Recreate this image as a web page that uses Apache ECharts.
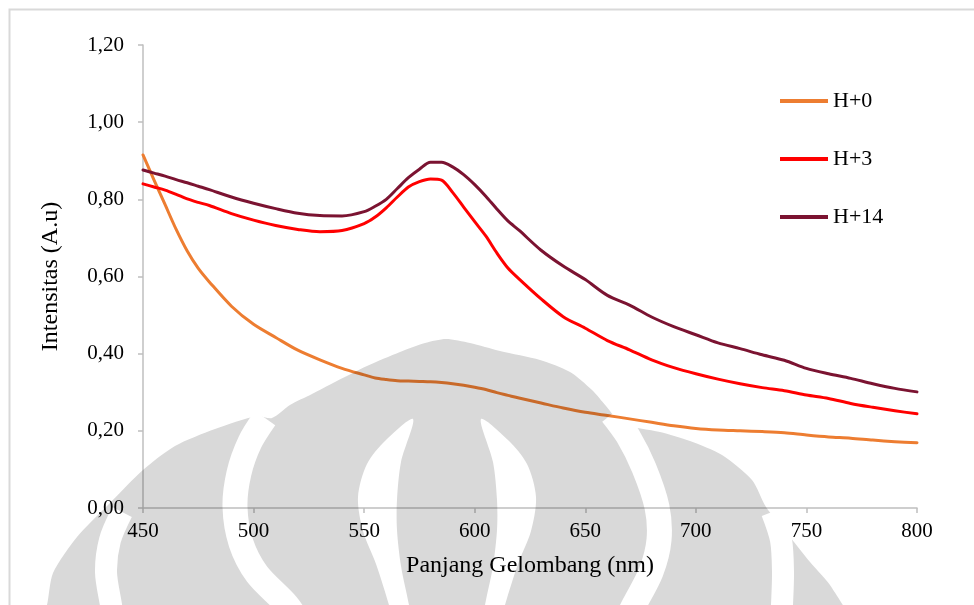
<!DOCTYPE html>
<html>
<head>
<meta charset="utf-8">
<script src="https://cdn.jsdelivr.net/npm/echarts@6/dist/echarts.min.js"></script>
<style>
  html, body { margin: 0; padding: 0; background: #ffffff; }
  #chart { width: 974px; height: 605px; }
  #emblem { width: 974px; height: 605px; position: absolute; left: -2000px; top: 0; }
</style>
</head>
<body>
<div id="chart"></div>
<div id="emblem"></div>
<script>
// Absorbance spectra (Intensitas) vs wavelength for three sampling days
const wavelength = [450, 455, 460, 465, 470, 475, 480, 490, 500, 510, 520, 530, 540, 550, 555, 560, 565, 570,
  575, 580, 585, 590, 595, 600, 605, 610, 615, 620, 630, 640, 650, 660, 670, 680, 690, 700, 710, 720, 730,
  740, 750, 760, 770, 780, 790, 800];

const h0 = [0.915, 0.850, 0.786, 0.722, 0.666, 0.621, 0.586, 0.523, 0.476, 0.442, 0.409, 0.384, 0.362, 0.345,
  0.337, 0.333, 0.330, 0.329, 0.328, 0.327, 0.325, 0.322, 0.318, 0.313, 0.307, 0.299, 0.292, 0.285, 0.272,
  0.259, 0.248, 0.240, 0.231, 0.222, 0.213, 0.206, 0.202, 0.200, 0.198, 0.195, 0.189, 0.184, 0.181, 0.176,
  0.172, 0.169];

const h3 = [0.840, 0.832, 0.824, 0.813, 0.801, 0.792, 0.784, 0.763, 0.746, 0.732, 0.722, 0.716, 0.719, 0.737,
  0.754, 0.778, 0.806, 0.832, 0.846, 0.853, 0.850, 0.818, 0.780, 0.742, 0.705, 0.661, 0.622, 0.594, 0.542,
  0.496, 0.466, 0.434, 0.410, 0.384, 0.364, 0.348, 0.334, 0.322, 0.312, 0.304, 0.293, 0.284, 0.271, 0.261,
  0.252, 0.244];

const h14 = [0.876, 0.868, 0.860, 0.851, 0.843, 0.834, 0.825, 0.806, 0.790, 0.776, 0.764, 0.758, 0.757, 0.768,
  0.782, 0.800, 0.828, 0.856, 0.878, 0.896, 0.896, 0.884, 0.864, 0.838, 0.808, 0.775, 0.744, 0.720, 0.668,
  0.627, 0.592, 0.551, 0.526, 0.495, 0.470, 0.449, 0.428, 0.413, 0.397, 0.383, 0.362, 0.348, 0.336, 0.322,
  0.310, 0.301];

const seriesNames = ['H+0', 'H+3', 'H+14'];
const seriesColors = ['#ED7D31', '#FF0000', '#7B1331'];

const serif = "'Liberation Serif', 'Times New Roman', serif";
const grey = '#d9d9d9';

function pairs(values) {
  return wavelength.map((w, i) => [w, values[i]]);
}

// Faint emblem printed over the page; drawn on its own canvas, then multiplied onto the chart
const emblemShapes = [
  {
    type: 'polygon', silent: true,
    shape: {
      smooth: 0.25,
      points: [[40, 625], [47, 605], [53, 573], [77, 537], [110, 503], [143, 470], [175, 446], [215, 429],
        [257, 416], [272, 418], [290, 405], [312, 394], [335, 382], [367, 366], [400, 352], [425, 343],
        [446, 339], [470, 343], [500, 351], [540, 360], [570, 372], [592, 390], [606, 406], [622, 424],
        [660, 432], [690, 441], [722, 455], [752, 480], [766, 507], [786, 532], [810, 562], [832, 588],
        [848, 625]]
    },
    style: { fill: grey }
  },
  {
    type: 'polyline', silent: true,
    shape: { smooth: 0.3, points: [[265, 418], [250, 442], [239, 473], [235, 507], [241, 543], [257, 574], [287, 605], [300, 625]] },
    style: { stroke: '#ffffff', lineWidth: 25, fill: null }
  },
  {
    type: 'polyline', silent: true,
    shape: { smooth: 0.3, points: [[612, 414], [628, 436], [644, 468], [657, 507], [659, 540], [651, 572], [634, 605], [624, 625]] },
    style: { stroke: '#ffffff', lineWidth: 25, fill: null }
  },
  {
    type: 'polygon', silent: true,
    shape: {
      smooth: 0.3,
      points: [[413, 419], [386, 440], [367, 464], [358, 497], [363, 531], [376, 564], [389, 605], [394, 625],
        [412, 625], [409, 605], [401, 566], [397, 530], [397, 500], [401, 462]]
    },
    style: { fill: '#ffffff' }
  },
  {
    type: 'polygon', silent: true,
    shape: {
      smooth: 0.3,
      points: [[481, 419], [508, 440], [527, 464], [536, 497], [531, 531], [518, 564], [505, 605], [500, 625],
        [482, 625], [485, 605], [493, 566], [497, 530], [497, 500], [493, 462]]
    },
    style: { fill: '#ffffff' }
  },
  {
    type: 'polyline', silent: true,
    shape: { smooth: 0.3, points: [[122, 512], [110, 540], [106, 572], [111, 605], [114, 625]] },
    style: { stroke: '#ffffff', lineWidth: 22, fill: null }
  },
  {
    type: 'polyline', silent: true,
    shape: { smooth: 0.3, points: [[772, 512], [781, 540], [783, 572], [782, 605], [781, 625]] },
    style: { stroke: '#ffffff', lineWidth: 22, fill: null }
  }
];

const emblemChart = echarts.init(document.getElementById('emblem'), null, { renderer: 'canvas' });
emblemChart.setOption({ animation: false, backgroundColor: '#ffffff', graphic: emblemShapes });
const emblemCanvas = emblemChart.getRenderedCanvas({ pixelRatio: 1, backgroundColor: '#ffffff' });

const chart = echarts.init(document.getElementById('chart'), null, { renderer: 'canvas' });

chart.setOption({
  animation: false,
  backgroundColor: '#ffffff',
  textStyle: { fontFamily: serif, color: '#000000' },
  graphic: [
    // chart area border
    {
      type: 'rect', z: -8, silent: true,
      shape: { x: 9.5, y: 9.5, width: 1000, height: 700 },
      style: { fill: null, stroke: '#d9d9d9', lineWidth: 2 }
    },
    {
      type: 'image', z: 100, silent: true,
      style: { image: emblemCanvas, x: 0, y: 0, width: 974, height: 605, blend: 'multiply' }
    }
  ],
  grid: { left: 143, right: 57, top: 45, bottom: 97, containLabel: false },
  legend: {
    orient: 'vertical',
    left: 775,
    top: 85,
    icon: 'rect',
    itemWidth: 48,
    itemHeight: 4,
    itemGap: 36,
    textStyle: { fontFamily: serif, fontSize: 22, color: '#000000' },
    data: seriesNames
  },
  xAxis: {
    type: 'value',
    min: 450,
    max: 800,
    interval: 50,
    name: 'Panjang Gelombang (nm)',
    nameLocation: 'middle',
    nameGap: 46,
    nameTextStyle: { fontFamily: serif, fontSize: 24, color: '#000000' },
    axisLine: { lineStyle: { color: '#bfbfbf', width: 1.5 } },
    axisTick: { show: true, length: 5, lineStyle: { color: '#bfbfbf', width: 1.5 } },
    axisLabel: { fontFamily: serif, fontSize: 21, color: '#000000', margin: 13 },
    splitLine: { show: false }
  },
  yAxis: {
    type: 'value',
    min: 0,
    max: 1.2,
    interval: 0.2,
    name: 'Intensitas (A.u)',
    nameLocation: 'middle',
    nameRotate: 90,
    nameGap: 80,
    nameTextStyle: { fontFamily: serif, fontSize: 24, color: '#000000' },
    axisLine: { show: true, lineStyle: { color: '#bfbfbf', width: 1.5 } },
    axisTick: { show: true, length: 5, lineStyle: { color: '#bfbfbf', width: 1.5 } },
    axisLabel: {
      fontFamily: serif, fontSize: 21, color: '#000000', margin: 19,
      formatter: v => v.toFixed(2).replace('.', ',')
    },
    splitLine: { show: false }
  },
  series: [h0, h3, h14].map((values, i) => ({
    name: seriesNames[i],
    type: 'line',
    data: pairs(values),
    smooth: 0.3,
    showSymbol: false,
    symbol: 'none',
    lineStyle: { color: seriesColors[i], width: 3, cap: 'round', join: 'round' },
    itemStyle: { color: seriesColors[i] },
    z: 3
  }))
});
</script>
</body>
</html>
